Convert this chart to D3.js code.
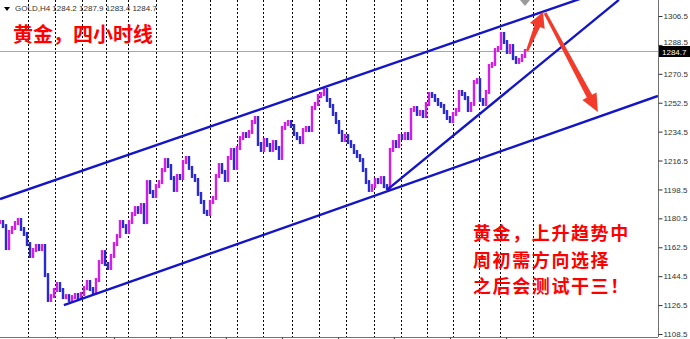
<!DOCTYPE html>
<html>
<head>
<meta charset="utf-8">
<script src="https://cdn.jsdelivr.net/npm/d3@7"></script>
<style>
    body { margin: 0; background: #fff; }
    #gold-chart { width: 690px; height: 339px; }
</style>
</head>
<body>
<div id="gold-chart"></div>
<script>
// H4 closes, one every bar slot
var closes = [
    1178.2, 1175.7, 1162.0, 1172.0, 1174.5, 1177.6, 1179.5, 1173.9, 1170.8, 1164.5,
    1157.1, 1160.8, 1163.3, 1161.4, 1163.3, 1145.2, 1129.7, 1132.1, 1135.9, 1139.6,
    1135.9, 1131.5, 1132.1, 1129.7, 1131.5, 1132.8, 1130.9, 1133.4, 1137.1, 1140.9,
    1136.5, 1134.6, 1142.1, 1153.3, 1159.5, 1152.1, 1149.6, 1157.1, 1164.5, 1169.5,
    1178.2, 1175.7, 1172.0, 1178.2, 1183.2, 1186.9, 1184.5, 1188.8, 1178.2, 1203.1,
    1196.9, 1194.4, 1200.6, 1203.1, 1210.6, 1216.8, 1213.1, 1205.6, 1198.2, 1206.9,
    1205.6, 1215.6, 1218.1, 1211.9, 1206.9, 1204.4, 1195.7, 1190.7, 1184.5, 1183.2,
    1190.7, 1193.2, 1206.9, 1213.7, 1209.4, 1204.4, 1218.1, 1223.1, 1211.9, 1224.3,
    1230.5, 1233.0, 1231.8, 1234.3, 1240.5, 1243.0, 1226.8, 1223.1, 1229.3, 1226.2,
    1223.1, 1228.0, 1224.3, 1218.1, 1236.8, 1239.3, 1240.5, 1238.0, 1233.0, 1230.5,
    1228.0, 1235.5, 1236.8, 1235.5, 1249.2, 1251.7, 1256.7, 1257.9, 1260.4, 1254.2,
    1250.5, 1245.5, 1240.5, 1234.3, 1229.3, 1231.8, 1228.0, 1225.5, 1221.8, 1219.3,
    1216.8, 1210.6, 1203.1, 1198.2, 1200.6, 1204.4, 1203.1, 1205.6, 1200.6, 1199.4,
    1223.1, 1228.0, 1225.5, 1231.8, 1230.5, 1233.0, 1230.5, 1248.0, 1249.2, 1245.5,
    1246.7, 1244.2, 1251.7, 1257.9, 1256.7, 1254.2, 1251.7, 1250.5, 1246.7, 1243.0,
    1241.1, 1245.5, 1248.0, 1259.2, 1257.9, 1255.4, 1248.0, 1251.7, 1265.4, 1266.6,
    1254.2, 1251.7, 1259.2, 1275.4, 1276.6, 1285.3, 1286.6, 1295.3, 1290.3, 1284.1,
    1287.8, 1280.3, 1277.9, 1279.1, 1281.6, 1284.7
];

var priceTicks = [1306.5, 1288.5, 1270.5, 1252.5, 1234.5, 1216.5, 1198.5, 1180.5, 1162.5, 1144.5, 1126.5, 1108.5];
var lastPrice = 1284.7;

// weekly period separators and time axis ticks, in bar units
var separators = [9.3, 18.3, 27.5, 35.3, 42.8, 52, 60.8, 70, 79, 87.8, 97.2, 106.3, 115.5, 124.7, 133.7, 142.3, 151, 159.7, 166.7, 177.7];
var timeTicks = [19, 38, 56.7, 75.3, 94, 112.7, 131.3, 150, 168.7];

// hand drawn objects: [bar, price] end points
var upperChannel = [[0, 1192.5], [219.3, 1333.9]];
var lowerChannel = [[21.3, 1126.5], [219.3, 1256.7]];
var risingLine = [[129, 1198.2], [206.3, 1316.5]];
var arrowUp = [[175.7, 1284.7], [181, 1309.0]];
var arrowDown = [[181.7, 1308.4], [199.3, 1246.7]];

var headerText = "GOLD,H4 1284.2 1287.9 1283.4 1284.7";
var titleText = "黄金，四小时线";
var noteLines = ["黄金，上升趋势中", "周初需方向选择", "之后会测试干三！"];

function GoldChart()
{
    var self = this;
    self.init();
}

GoldChart.prototype.init = function()
{
    var self = this;
    self.width = 690;
    self.height = 339;
    self.plotRight = 658;
    self.plotBottom = 337;
    self.barPitch = 3;

    self.svg = d3.select("#gold-chart").append("svg")
        .attr("width", self.width)
        .attr("height", self.height)
        .style("font-family", "'Liberation Sans', Arial, sans-serif");

    self.x = d3.scaleLinear()
        .domain([0, self.plotRight / self.barPitch])
        .range([0, self.plotRight]);
    self.y = d3.scaleLinear()
        .domain([1108.5, 1306.5])
        .range([334, 16]);
};

GoldChart.prototype.arrowShape = function(a, b, headLen, headHalf, tailHalf, neckHalf)
{
    var self = this;
    var x0 = self.x(a[0]), y0 = self.y(a[1]);
    var x1 = self.x(b[0]), y1 = self.y(b[1]);
    var dx = x1 - x0, dy = y1 - y0;
    var len = Math.sqrt(dx * dx + dy * dy);
    var ux = dx / len, uy = dy / len;
    var nx = -uy, ny = ux;
    var bx = x1 - ux * headLen, by = y1 - uy * headLen;
    var pts = [
        [x0 + nx * tailHalf, y0 + ny * tailHalf],
        [bx + nx * neckHalf, by + ny * neckHalf],
        [bx + nx * headHalf, by + ny * headHalf],
        [x1, y1],
        [bx - nx * headHalf, by - ny * headHalf],
        [bx - nx * neckHalf, by - ny * neckHalf],
        [x0 - nx * tailHalf, y0 - ny * tailHalf]
    ];
    return "M" + pts.map(function(p) { return p[0].toFixed(1) + "," + p[1].toFixed(1); }).join("L") + "Z";
};

GoldChart.prototype.update = function()
{
    var self = this;
    var x = self.x, y = self.y;

    self.svg.append("defs").append("clipPath")
        .attr("id", "plot-clip")
        .append("rect")
        .attr("x", 0).attr("y", 0)
        .attr("width", self.plotRight).attr("height", self.plotBottom);

    // period separators
    self.svg.append("g").selectAll("line")
        .data(separators)
        .enter().append("line")
        .attr("x1", function(d) { return Math.round(x(d)) + 0.5; })
        .attr("x2", function(d) { return Math.round(x(d)) + 0.5; })
        .attr("y1", 0)
        .attr("y2", self.plotBottom)
        .style("stroke", "#000")
        .style("stroke-width", 1)
        .style("stroke-dasharray", "2,2");

    // last price line
    self.svg.append("line")
        .attr("x1", 0).attr("x2", self.plotRight)
        .attr("y1", Math.round(y(lastPrice)) + 0.5)
        .attr("y2", Math.round(y(lastPrice)) + 0.5)
        .style("stroke", "#a8a8a8")
        .style("stroke-width", 1);

    // bars from previous close to close
    var bars = closes.map(function(c, i) {
        var prev = i > 0 ? closes[i - 1] : c;
        return {i: i, hi: Math.max(prev, c), lo: Math.min(prev, c), up: c >= prev};
    });

    self.svg.append("g").selectAll("rect")
        .data(bars)
        .enter().append("rect")
        .attr("x", function(d) { return x(d.i) - 1.2; })
        .attr("y", function(d) { return y(d.hi) - 2; })
        .attr("width", 2.4)
        .attr("height", function(d) { return y(d.lo) - y(d.hi) + 4; })
        .style("fill", function(d) { return d.up ? "#d21ee6" : "#2a2ad2"; });

    // trend lines
    var line = d3.line()
        .x(function(d) { return x(d[0]); })
        .y(function(d) { return y(d[1]); });

    self.svg.append("g")
        .attr("clip-path", "url(#plot-clip)")
        .selectAll("path")
        .data([upperChannel, lowerChannel, risingLine])
        .enter().append("path")
        .attr("d", line)
        .style("fill", "none")
        .style("stroke", "#1414c8")
        .style("stroke-width", 2.4);

    // red arrows
    self.svg.append("path")
        .attr("d", self.arrowShape(arrowUp[0], arrowUp[1], 15, 8, 1.2, 3))
        .style("fill", "#f23b2b");
    self.svg.append("path")
        .attr("d", self.arrowShape(arrowDown[0], arrowDown[1], 18, 8, 1.5, 3))
        .style("fill", "#f23b2b");

    // shift marker
    var mx = x(closes.length - 1);
    self.svg.append("path")
        .attr("d", "M" + (mx - 5) + ",0L" + (mx + 5) + ",0L" + mx + ",6Z")
        .style("fill", "#9a9a9a");

    // price axis
    var yAxis = d3.axisRight(y).tickValues(priceTicks).tickSize(4).tickFormat(d3.format(".1f"));
    var ya = self.svg.append("g")
        .attr("class", "y axis")
        .attr("transform", "translate(" + (self.plotRight + 0.5) + ",0)")
        .call(yAxis);
    ya.select(".domain").attr("d", "M0,0V" + self.plotBottom).style("stroke", "#707070");
    ya.selectAll(".tick line").style("stroke", "#333");
    ya.selectAll(".tick text")
        .attr("x", 5)
        .attr("dy", function(d) { return d === 1288.5 ? "-0.1em" : "0.32em"; })
        .style("font-size", "8px")
        .style("font-family", "'Liberation Sans', Arial, sans-serif")
        .style("fill", "#333");

    // time axis (labels fall below the crop)
    var xAxis = d3.axisBottom(x).tickValues(timeTicks).tickSize(3).tickFormat("");
    var xa = self.svg.append("g")
        .attr("class", "x axis")
        .attr("transform", "translate(0," + (self.plotBottom + 0.5) + ")")
        .call(xAxis);
    xa.select(".domain").attr("d", "M0,0H" + self.plotRight).style("stroke", "#707070");
    xa.selectAll(".tick line").style("stroke", "#333");

    // last price tag
    var ly = y(lastPrice);
    self.svg.append("rect")
        .attr("x", self.plotRight + 1).attr("y", ly - 5)
        .attr("width", 31).attr("height", 11)
        .style("fill", "#000");
    self.svg.append("text")
        .attr("x", self.plotRight + 4).attr("y", ly + 3.5)
        .style("font-size", "8px")
        .style("fill", "#fff")
        .text(d3.format(".1f")(lastPrice));

    // header
    self.svg.append("path")
        .attr("d", "M4,7L10,7L7,11Z")
        .style("fill", "#000");
    self.svg.append("text")
        .attr("x", 15).attr("y", 11)
        .style("font-size", "8px")
        .style("fill", "#333")
        .text(headerText);

    // red notes
    self.svg.append("text")
        .attr("x", 13).attr("y", 42)
        .style("font-family", "'Noto Sans CJK SC', sans-serif")
        .style("font-weight", "bold")
        .style("font-size", "20px")
        .style("fill", "#f00")
        .text(titleText);

    self.svg.append("g").selectAll("text")
        .data(noteLines)
        .enter().append("text")
        .attr("x", 473)
        .attr("y", function(d, i) { return 240 + i * 26.5; })
        .style("font-family", "'Noto Sans CJK SC', sans-serif")
        .style("font-weight", "bold")
        .style("font-size", "18px")
        .style("letter-spacing", "1.6px")
        .style("fill", "#f00")
        .text(function(d) { return d; });
};

var chart = new GoldChart();
chart.update();
</script>
</body>
</html>
